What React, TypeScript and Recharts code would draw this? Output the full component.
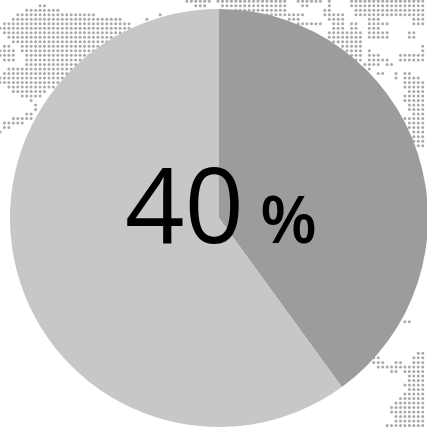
import { Cell, Pie, PieChart, Scatter, ScatterChart, XAxis, YAxis } from "recharts";

const SIZE = 427;

const sliceNames = ["Highlighted", "Rest"];
const sliceValues = [40, 60];
const sliceColors = ["#9b9c9e", "#c6c7c9"];

const valueLabel = "40";
const unitLabel = "%";

// world map backdrop, run-length per row of the dot grid: [row, firstCol, lastCol]
const mapRuns: [number, number, number][] = [
  [-1, 42, 47], [-1, 49, 64], [-1, 67, 72], [-1, 74, 74], [-1, 79, 95],
  [0, 9, 10], [0, 44, 46], [0, 50, 64], [0, 68, 69], [0, 74, 74], [0, 79, 95],
  [1, 6, 13], [1, 53, 64], [1, 73, 74], [1, 80, 95],
  [2, 4, 21], [2, 36, 36], [2, 57, 68], [2, 73, 77], [2, 80, 95],
  [3, 3, 27], [3, 33, 33], [3, 65, 67], [3, 74, 77], [3, 83, 85], [3, 93, 95],
  [4, 1, 29], [4, 67, 72], [4, 75, 77], [4, 79, 80], [4, 83, 87], [4, 93, 95],
  [5, 0, 29], [5, 75, 77], [5, 79, 80], [5, 83, 85],
  [6, 1, 30], [6, 74, 81], [6, 83, 87], [6, 92, 93],
  [7, 2, 30], [7, 74, 81], [7, 83, 87], [7, 92, 93],
  [8, 3, 30], [8, 75, 81],
  [9, 1, 2], [9, 5, 30], [9, 77, 81], [9, 95, 95],
  [10, 0, 3], [10, 5, 30], [10, 78, 81], [10, 83, 83], [10, 95, 95],
  [11, 0, 3], [11, 6, 30], [11, 79, 81], [11, 83, 85], [11, 90, 95],
  [12, 1, 3], [12, 6, 30], [12, 80, 81], [12, 83, 87], [12, 90, 95],
  [13, 6, 30], [13, 82, 85], [13, 87, 88],
  [14, 2, 30], [14, 83, 83],
  [15, 1, 30], [15, 85, 86], [15, 89, 89], [15, 91, 92],
  [16, 0, 30], [16, 89, 89], [16, 91, 94],
  [17, 0, 30], [17, 91, 95],
  [18, 2, 30], [18, 91, 95],
  [19, 3, 10], [19, 92, 95],
  [20, 5, 9], [20, 91, 95],
  [21, 7, 7], [21, 91, 95],
  [22, 8, 8], [22, 92, 95],
  [23, 8, 8], [23, 92, 95],
  [24, 6, 7], [24, 93, 95],
  [25, 3, 7], [25, 91, 95],
  [26, 1, 5], [26, 92, 95],
  [27, 1, 2], [27, 92, 95],
  [28, 0, 0], [28, 93, 95],
  [29, 93, 95],
  [30, 93, 95],
  [31, 93, 95],
  [70, 91, 92],
  [77, 94, 95],
  [78, 84, 85], [78, 93, 95],
  [79, 84, 86], [79, 89, 90], [79, 93, 95],
  [80, 85, 95],
  [81, 88, 89], [81, 91, 95],
  [82, 92, 95],
  [83, 92, 95],
  [84, 91, 95],
  [85, 92, 95],
  [86, 91, 95],
  [87, 90, 95],
  [88, 89, 95],
  [89, 88, 95],
  [90, 88, 95],
  [91, 89, 95],
  [92, 89, 95],
  [93, 87, 95],
];

const mapDots = mapRuns.flatMap(([row, first, last]) => {
  const dots: { col: number; row: number }[] = [];
  for (let col = first; col <= last; col++) dots.push({ col, row });
  return dots;
});

const slices = sliceNames.map((name, i) => ({ name, value: sliceValues[i] }));

function MapDot({ cx, cy }: { cx?: number; cy?: number }) {
  return <circle cx={cx} cy={cy} r={1.5} fill="#a9aaac" />;
}

export default function App() {
  return (
    <div style={{ position: "absolute", left: 0, top: 0, width: SIZE, height: SIZE, overflow: "hidden", background: "#fff" }}>
      <div style={{ position: "absolute", inset: 0 }}>
        <ScatterChart width={SIZE} height={SIZE} margin={{ top: 0, right: 0, bottom: 0, left: 0 }}>
          <XAxis type="number" dataKey="col" domain={[0, 95.96]} allowDataOverflow hide />
          <YAxis type="number" dataKey="row" domain={[-1.262, 93.31]} reversed allowDataOverflow hide />
          <Scatter data={mapDots} shape={MapDot} isAnimationActive={false} />
        </ScatterChart>
      </div>
      <div style={{ position: "absolute", inset: 0 }}>
        <PieChart width={SIZE} height={SIZE} margin={{ top: 0, right: 0, bottom: 0, left: 0 }}>
          <Pie
            data={slices}
            dataKey="value"
            cx={219}
            cy={218}
            outerRadius={209}
            startAngle={90}
            endAngle={-270}
            stroke="none"
            isAnimationActive={false}
          >
            {slices.map((slice, i) => (
              <Cell key={slice.name} fill={sliceColors[i]} />
            ))}
          </Pie>
        </PieChart>
      </div>
      <svg width={SIZE} height={SIZE} style={{ position: "absolute", left: 0, top: 0 }}>
        <text x={125} y={243} fontFamily="'Open Sans'" fontSize={104} fill="#000">
          {valueLabel}
        </text>
        <text x={260} y={243} fontFamily="'Open Sans'" fontWeight={600} fontSize={66} fill="#000">
          {unitLabel}
        </text>
      </svg>
    </div>
  );
}
